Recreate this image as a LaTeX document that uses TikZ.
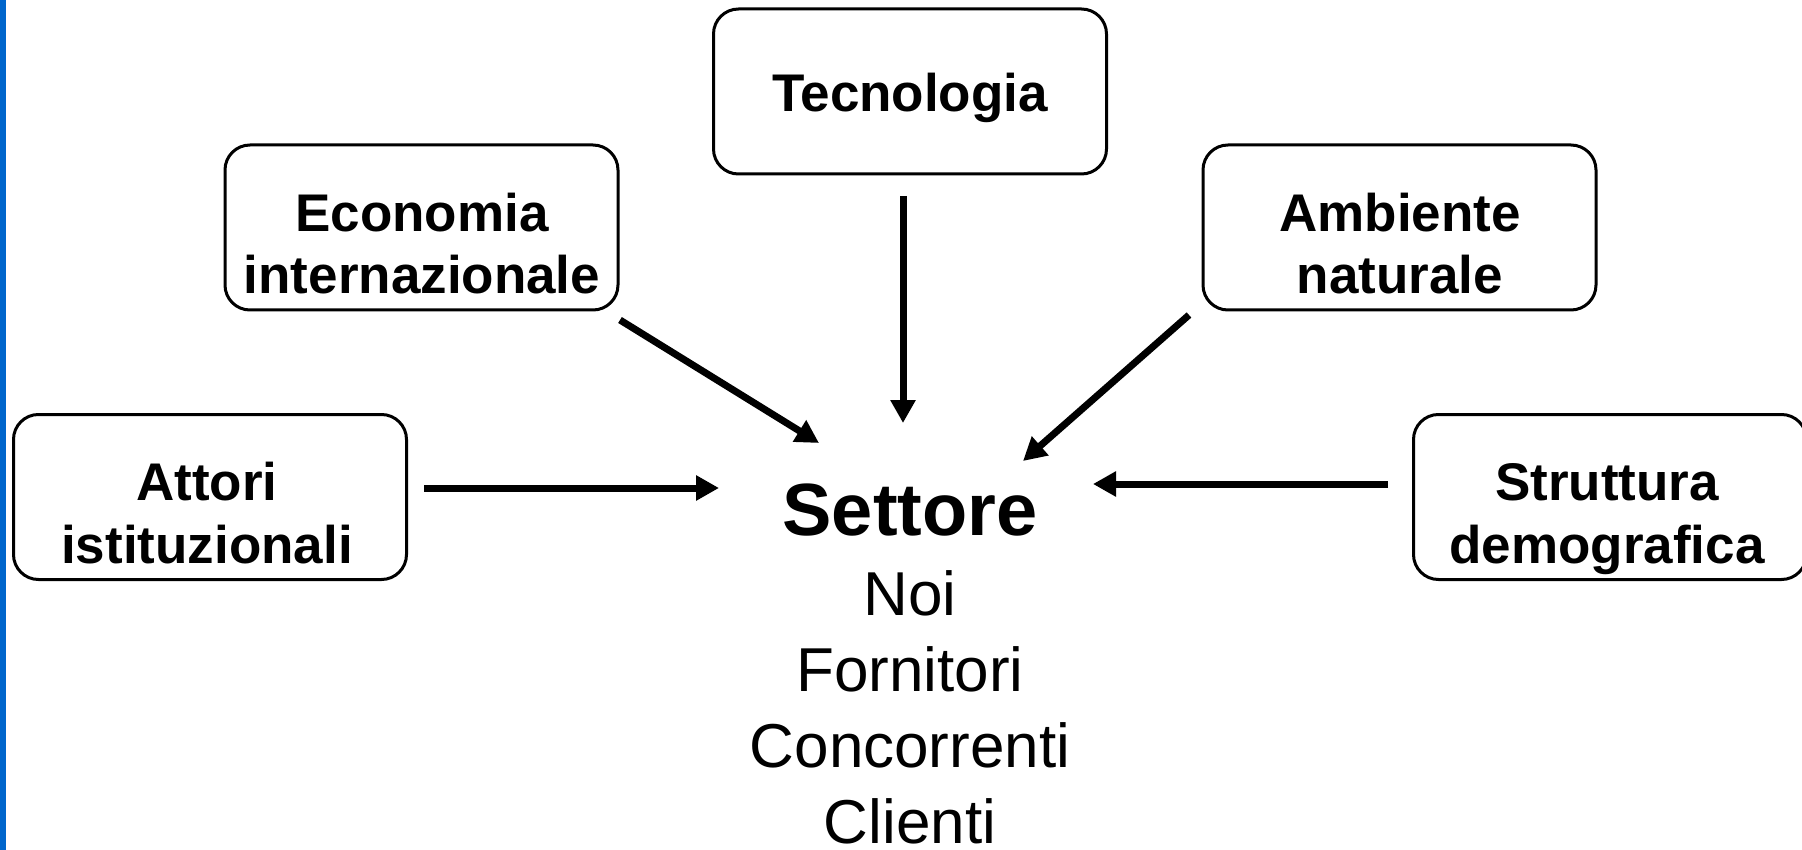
\documentclass[tikz,border=0pt]{standalone}
\usepackage{fontspec}
\setmainfont{Liberation Sans}
\usetikzlibrary{arrows.meta}
\definecolor{barblue}{RGB}{0,102,204}
\begin{document}
\begin{tikzpicture}[x=1pt,y=-1pt,
  box/.style={draw=black,line width=3pt,rounded corners=25pt,minimum width=393pt,minimum height=165pt,inner sep=0pt},
  lbl/.style={anchor=base,inner sep=0pt,font=\fontsize{53}{62}\selectfont\bfseries},
  big/.style={anchor=base,inner sep=0pt,font=\fontsize{74}{80}\selectfont\bfseries},
  lst/.style={anchor=base,inner sep=0pt,font=\fontsize{62}{70}\selectfont},
  arr/.style={line width=7pt,-{Triangle[length=23pt,width=24pt]}}]
\useasboundingbox (0,0) rectangle (1802,850);
\fill[barblue] (0,0) rectangle (6,850);
% boxes
\node[box] (tec) at (910,91.5) {};
\node[box] (econ) at (421.5,227.5) {};
\node[box] (amb) at (1399.5,227.5) {};
\node[box] (att) at (210,497) {};
\node[box] (str) at (1610,497) {};
% labels
\node[lbl] (tecT) at (910,112) {Tecnologia};
\node[lbl] (econT1) at (422,232) {Economia};
\node[lbl] (econT2) at (422,294) {internazionale};
\node[lbl] (ambT1) at (1400,232) {Ambiente};
\node[lbl] (ambT2) at (1400,294) {naturale};
\node[lbl] (attT1) at (207,500) {Attori};
\node[lbl] (attT2) at (207,563) {istituzionali};
\node[lbl] (strT1) at (1607,500) {Struttura};
\node[lbl] (strT2) at (1607,563) {demografica};
% center
\node[big] (set) at (910,535) {Settore};
\node[lst] (noi) at (910,615) {Noi};
\node[lst] (for) at (910,691) {Fornitori};
\node[lst] (con) at (910,767) {Concorrenti};
\node[lst] (cli) at (910,843) {Clienti};
% arrow end points
\coordinate (tecA) at (903,196);
\coordinate (tecB) at (903,423);
\coordinate (econA) at (620,320);
\coordinate (econB) at (819,443);
\coordinate (ambA) at (1189,315);
\coordinate (ambB) at (1023,461);
\coordinate (attA) at (424,488);
\coordinate (attB) at (719,488);
\coordinate (strA) at (1388,484);
\coordinate (strB) at (1093,484);
\draw[arr] (tecA) -- (tecB);
\draw[arr] (econA) -- (econB);
\draw[arr] (ambA) -- (ambB);
\draw[arr] (attA) -- (attB);
\draw[arr] (strA) -- (strB);
\end{tikzpicture}
\end{document}
